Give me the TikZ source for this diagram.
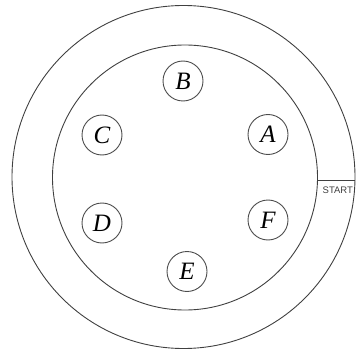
\documentclass[tikz,border=0pt]{standalone}
\usepackage{fontspec}
\setmainfont{Liberation Serif}
\newfontfamily\startfont{Liberation Sans}
\begin{document}
\begin{tikzpicture}[x=1pt,y=1pt,
  ring/.style={circle, draw=black!75, line width=0.9pt, inner sep=0pt},
  seat/.style={circle, draw=black!70, line width=0.9pt, minimum size=40pt, inner sep=0pt,
    font=\fontsize{25}{25}\selectfont\itshape},
  lbl/.style={inner sep=0pt, anchor=base west, text=black!75, font=\startfont\fontsize{9.5}{9.5}\selectfont}]
\useasboundingbox (0,0) rectangle (356,-350);
\node[ring, minimum size=343pt] (outer) at (183.5,-177) {};
\node[ring, minimum size=265pt] (inner) at (185,-177.5) {};
\node[seat] (B) at (183,-81) {B};
\node[seat] (A) at (268,-134.5) {A};
\node[seat] (C) at (102,-135) {C};
\node[seat] (D) at (102,-223) {D};
\node[seat] (E) at (187,-271.5) {E};
\node[seat] (F) at (268,-220) {F};
\coordinate (s1) at (317.5,-180);
\coordinate (s2) at (355,-180);
\draw[black!75, line width=0.9pt] (s1) -- (s2);
\node[lbl] (start) at (322.5,-193) {START};
\end{tikzpicture}
\end{document}
